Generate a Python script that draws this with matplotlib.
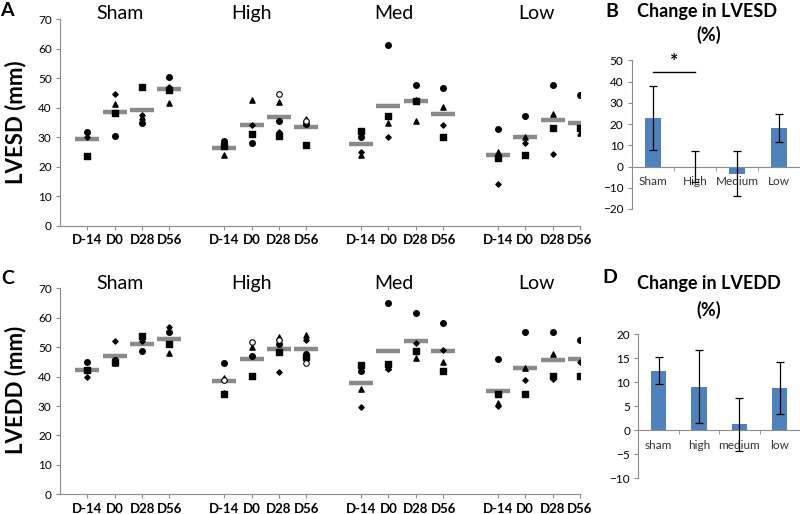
import matplotlib
matplotlib.use('Agg')
import matplotlib.pyplot as plt
import matplotlib.transforms as mtransforms
import numpy as np

plt.rcParams['font.family'] = ['Lato', 'DejaVu Sans']

nan = np.nan
days = ['D-14', 'D0', 'D28', 'D56']
groups = ['Sham', 'High', 'Med', 'Low']

# per-animal values, order: Sham D-14..D56, High, Med, Low
esd_circle = [31.9, 30.3, 34.9, 50.5, 28.8, 28.2, 35.6, 34.4, 30.1, 61.2, 47.7, 46.6, 32.9, 37.1, 47.7, 44.3]
esd_square = [23.5, 38.3, 47.0, 46.0, 27.1, 31.1, 30.4, 27.5, 32.1, 37.1, 42.2, 30.0, 23.1, 24.1, 33.1, 33.2]
esd_triangle = [nan, 41.2, 36.8, 41.7, 23.9, 42.6, 41.8, 36.3, 24.0, 34.7, 35.6, 40.1, 24.9, 30.2, 38.0, 31.5]
esd_diamond = [30.0, 44.5, 37.5, 47.0, 28.2, 34.0, 31.9, nan, 25.1, 30.1, 42.6, 34.2, 14.0, 27.9, 24.2, nan]
esd_open = [nan, nan, nan, nan, nan, nan, 44.8, 35.6, nan, nan, nan, nan, nan, nan, nan, nan]
esd_mean = [29.3, 38.6, 39.1, 46.3, 26.5, 34.0, 37.0, 33.6, 27.8, 40.7, 42.2, 37.8, 23.9, 30.0, 35.8, 34.9]

edd_circle = [45.1, 45.8, 48.8, 55.1, 44.7, 47.0, 51.1, 47.6, 42.0, 65.1, 61.5, 58.2, 45.9, 55.0, 55.3, 52.4]
edd_square = [42.2, 45.0, 53.9, 51.1, 34.0, 40.1, 48.5, 46.8, 44.1, 44.2, 48.8, 41.9, 34.0, 34.0, 40.2, 40.2]
edd_triangle = [nan, 44.5, nan, 48.1, 39.6, 50.2, 53.3, 54.2, 35.9, 43.4, 46.4, 45.1, 30.9, 43.0, 47.7, nan]
edd_diamond = [40.0, 52.0, 52.0, 56.7, 34.6, nan, 41.6, 52.4, 29.7, 42.6, 51.5, 49.2, 29.9, 39.0, 39.1, 45.1]
edd_open = [nan, nan, nan, nan, 39.0, 51.6, 52.4, 44.7, nan, nan, nan, nan, nan, nan, nan, nan]
edd_mean = [42.4, 47.1, 51.1, 52.8, 38.5, 45.9, 49.4, 49.4, 37.9, 48.8, 52.2, 48.7, 35.2, 42.8, 45.6, 45.9]

esd_change_labels = ['Sham', 'High', 'Medium', 'Low']
esd_change = [22.8, 0.0, -3.3, 18.1]
esd_change_err = [15.0, 7.5, 10.6, 6.7]

edd_change_labels = ['sham', 'high', 'medium', 'low']
edd_change = [12.4, 9.1, 1.2, 8.7]
edd_change_err = [2.8, 7.6, 5.6, 5.4]

axis_gray = '#8c8c8c'
bar_blue = '#4f81bd'

# x positions: 4 days per group with one empty slot between groups
xpos = np.array([g * 5 + d + 1 for g in range(4) for d in range(4)])

fig = plt.figure(figsize=(8.0, 5.14), dpi=100)


def scatter_panel(rect, circle, square, triangle, diamond, opn, mean, ylabel, label_y):
    ax = fig.add_axes(rect)
    ax.scatter(xpos, mean, marker='_', s=300, linewidths=3.2, color='#8a8a8a', zorder=2)
    ax.scatter(xpos, circle, marker='o', s=16, color='black', zorder=3)
    ax.scatter(xpos, square, marker='s', s=14, color='black', zorder=3)
    ax.scatter(xpos, triangle, marker='^', s=14, color='black', zorder=3)
    ax.scatter(xpos, diamond, marker='D', s=7, color='black', zorder=3)
    ax.scatter(xpos, opn, marker='o', s=16, facecolor='white', edgecolor='black', linewidths=0.8, zorder=3)
    ax.set_xlim(0, 19)
    ax.set_ylim(0, 70)
    ax.set_yticks(range(0, 71, 10))
    ax.set_xticks(xpos)
    ax.set_xticklabels(days * 4, fontweight='bold', fontsize=9.5)
    ax.tick_params(axis='x', length=3, color=axis_gray, pad=3)
    ax.tick_params(axis='y', length=3, color=axis_gray, labelsize=8.5, pad=3)
    for s in ['top', 'right']:
        ax.spines[s].set_visible(False)
    for s in ['left', 'bottom']:
        ax.spines[s].set_color(axis_gray)
        ax.spines[s].set_linewidth(0.8)
    fig.text(0.019, label_y, ylabel, rotation=90, fontsize=16, fontweight='bold', ha='center', va='center')
    return ax


def change_panel(rect, labels, vals, errs, ylim, step):
    ax = fig.add_axes(rect)
    x = np.arange(len(vals))
    ax.bar(x, vals, width=0.38, color=bar_blue, zorder=2)
    ax.errorbar(x, vals, yerr=errs, fmt='none', ecolor='black', elinewidth=0.9, capsize=3, capthick=0.9, zorder=3)
    ax.set_xlim(-0.5, len(vals) - 0.5)
    ax.set_ylim(*ylim)
    ax.set_yticks(np.arange(ylim[0], ylim[1] + 1, step))
    ax.spines['bottom'].set_position(('data', 0))
    for s in ['top', 'right']:
        ax.spines[s].set_visible(False)
    for s in ['left', 'bottom']:
        ax.spines[s].set_color(axis_gray)
        ax.spines[s].set_linewidth(0.8)
    ax.set_xticks(x)
    ax.set_xticklabels(labels, fontsize=8.5, color='#333333')
    ax.set_xticks(np.arange(0.5, len(vals) + 0.5, 1), minor=True)
    ax.tick_params(axis='x', which='major', length=0, pad=7)
    ax.tick_params(axis='x', which='minor', length=3, color=axis_gray)
    ax.tick_params(axis='y', length=3, color=axis_gray, labelsize=8.5, pad=3)
    return ax


axA = scatter_panel([0.075, 0.561, 0.65, 0.4015], esd_circle, esd_square, esd_triangle,
                    esd_diamond, esd_open, esd_mean, 'LVESD (mm)', 0.763)
axC = scatter_panel([0.075, 0.0383, 0.65, 0.4007], edd_circle, edd_square, edd_triangle,
                    edd_diamond, edd_open, edd_mean, 'LVEDD (mm)', 0.241)

group_x = [2.2, 7.0, 12.2, 17.4]
for ax, ty in [(axA, 0.973), (axC, 0.449)]:
    trans = mtransforms.blended_transform_factory(ax.transData, fig.transFigure)
    for gx, g in zip(group_x, groups):
        ax.text(gx, ty, g, transform=trans, fontsize=14, ha='center', va='center')

axB = change_panel([0.7896, 0.5934, 0.2104, 0.2893], esd_change_labels, esd_change,
                   esd_change_err, (-20, 50), 10)
axD = change_panel([0.798, 0.0694, 0.202, 0.2806], edd_change_labels, edd_change,
                   edd_change_err, (-10, 20), 5)

# significance marker in B
axB.plot([0, 1], [44.6, 44.6], color='black', lw=1, clip_on=False)
axB.text(0.5, 45.2, '*', ha='center', va='bottom', fontsize=14, fontweight='bold')

fig.text(0.884, 0.977, 'Change in LVESD', fontsize=13, fontweight='bold', ha='center', va='center')
fig.text(0.886, 0.932, '(%)', fontsize=13, fontweight='bold', ha='center', va='center')
fig.text(0.886, 0.449, 'Change in LVEDD', fontsize=13, fontweight='bold', ha='center', va='center')
fig.text(0.886, 0.397, '(%)', fontsize=13, fontweight='bold', ha='center', va='center')

for lx, ly, letter in [(0.0085, 0.98, 'A'), (0.0095, 0.459, 'C'), (0.765, 0.977, 'B'), (0.7625, 0.461, 'D')]:
    fig.text(lx, ly, letter, fontsize=14, fontweight='bold', ha='center', va='center')

fig.savefig('out.png', dpi=100)
